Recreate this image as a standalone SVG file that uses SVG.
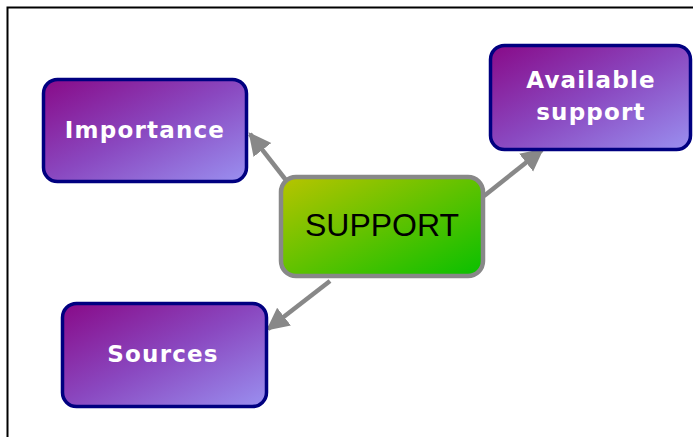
<svg xmlns="http://www.w3.org/2000/svg" width="693" height="437" viewBox="0 0 693 437">
<defs>
<linearGradient id="gp" x1="0" y1="0" x2="1" y2="1">
<stop offset="0" stop-color="#880a88"/>
<stop offset="0.5" stop-color="#8a48c0"/>
<stop offset="1" stop-color="#9a90f0"/>
</linearGradient>
<linearGradient id="gg" x1="0" y1="0" x2="1" y2="1">
<stop offset="0" stop-color="#b8c400"/>
<stop offset="1" stop-color="#08c000"/>
</linearGradient>
<marker id="ah" viewBox="0 0 10 10" refX="9" refY="5" markerWidth="5" markerHeight="5.5" orient="auto" markerUnits="strokeWidth">
<path d="M0,0 L10,5 L0,10 z" fill="#888"/>
</marker>
<style>
.n rect{fill:url(#gp);stroke:#000080;stroke-width:3.5}
.n text{font-family:"DejaVu Sans",sans-serif;font-weight:bold;font-size:23px;letter-spacing:1.2px;fill:#fff;text-anchor:middle}
.c line{stroke:#888;stroke-width:4.5;marker-end:url(#ah)}
</style>
</defs>
<rect x="0" y="0" width="693" height="437" fill="#fff"/>
<path d="M7.5,437 V7.5 H693" fill="none" stroke="#000" stroke-width="2"/>
<g id="connectors" class="c">
<line x1="289" y1="184" x2="250" y2="134"/>
<line x1="484" y1="196" x2="542" y2="150"/>
<line x1="330" y1="281" x2="268" y2="329"/>
</g>
<g id="importance" class="n">
<rect x="43.5" y="79.5" width="203" height="102" rx="14"/>
<text x="145" y="138">Importance</text>
</g>
<g id="available" class="n">
<rect x="490.5" y="45.5" width="200" height="104" rx="14"/>
<text x="591" y="88">Available</text>
<text x="591" y="120">support</text>
</g>
<g id="sources" class="n">
<rect x="62.5" y="303.5" width="204" height="103" rx="14"/>
<text x="163" y="362">Sources</text>
</g>
<g id="support">
<rect x="281" y="177" width="202" height="99" rx="15" fill="url(#gg)" stroke="#888" stroke-width="4.5"/>
<text x="382" y="236" font-family="Liberation Sans, Arial, sans-serif" font-size="32" text-anchor="middle" fill="#000">SUPPORT</text>
</g>
</svg>
